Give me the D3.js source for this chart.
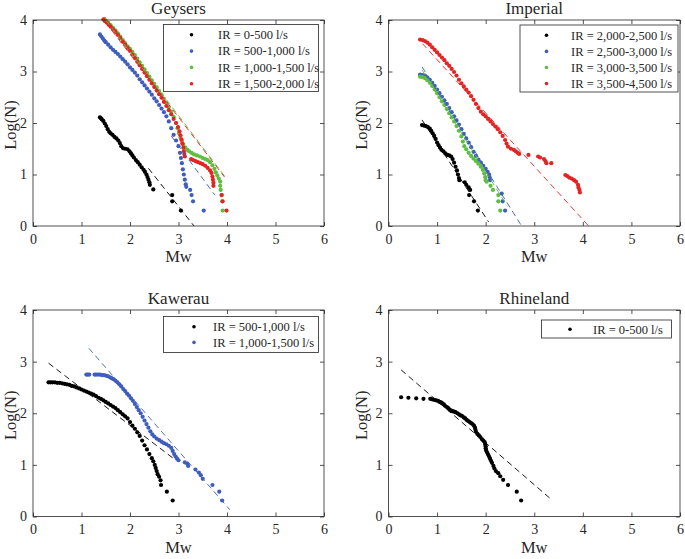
<!DOCTYPE html>
<html><head><meta charset="utf-8">
<script src="https://cdn.jsdelivr.net/npm/d3@7"></script>
<style>
body{margin:0;background:#fff}
svg{display:block}
text{font-family:"Liberation Serif","Times New Roman",serif;fill:#262626}
</style>
</head><body><svg id="c" width="685" height="559"></svg>
<script>
// ---------------- DATA ----------------
const xTicks = [0, 1, 2, 3, 4, 5, 6];
const yTicks = [0, 1, 2, 3, 4];
const panelTitles = ["Geysers", "Imperial", "Kawerau", "Rhineland"];
const xLabel = "Mw";
const yLabel = "Log(N)";

const geysersLabels = ["IR = 0-500 l/s", "IR = 500-1,000 l/s", "IR = 1,000-1,500 l/s", "IR = 1,500-2,000 l/s"];
const imperialLabels = ["IR = 2,000-2,500 l/s", "IR = 2,500-3,000 l/s", "IR = 3,000-3,500 l/s", "IR = 3,500-4,500 l/s"];
const kawerauLabels = ["IR = 500-1,000 l/s", "IR = 1,000-1,500 l/s"];
const rhinelandLabels = ["IR = 0-500 l/s"];

// Geysers
const geysers_0_500 = [[1.38,2.11],[1.40,2.09],[1.42,2.07],[1.45,2.04],[1.48,1.99],[1.51,1.94],[1.54,1.88],[1.57,1.83],[1.60,1.80],[1.64,1.77],[1.68,1.73],[1.72,1.70],[1.76,1.66],[1.79,1.61],[1.82,1.55],[1.86,1.51],[1.90,1.50],[1.95,1.49],[1.99,1.45],[2.02,1.41],[2.05,1.37],[2.08,1.33],[2.12,1.28],[2.16,1.24],[2.20,1.19],[2.24,1.14],[2.28,1.09],[2.31,1.05],[2.34,1.00],[2.36,0.95],[2.38,0.90],[2.40,0.85],[2.41,0.80],[2.48,0.71],[2.87,0.60],[2.87,0.48],[3.05,0.30]];
const geysers_500_1000 = [[1.38,3.72],[1.41,3.68],[1.44,3.64],[1.47,3.60],[1.50,3.57],[1.55,3.52],[1.60,3.47],[1.65,3.42],[1.70,3.38],[1.75,3.34],[1.80,3.29],[1.85,3.24],[1.90,3.19],[1.95,3.14],[2.00,3.08],[2.05,3.03],[2.10,2.98],[2.15,2.92],[2.20,2.85],[2.25,2.79],[2.30,2.73],[2.35,2.67],[2.40,2.61],[2.45,2.55],[2.50,2.48],[2.55,2.42],[2.60,2.35],[2.65,2.28],[2.70,2.21],[2.75,2.13],[2.80,2.03],[2.85,1.90],[2.90,1.77],[2.95,1.66],[3.00,1.55],[3.03,1.42],[3.05,1.32],[3.07,1.22],[3.09,1.10],[3.11,1.00],[3.13,0.90],[3.15,0.81],[3.16,0.76],[3.24,0.70],[3.27,0.60],[3.30,0.48],[3.52,0.30]];
const geysers_1000_1500 = [[1.47,4.02],[1.50,3.99],[1.55,3.95],[1.60,3.90],[1.65,3.85],[1.70,3.80],[1.75,3.74],[1.80,3.68],[1.85,3.61],[1.90,3.55],[1.95,3.49],[2.00,3.44],[2.05,3.38],[2.10,3.32],[2.15,3.25],[2.20,3.18],[2.25,3.11],[2.30,3.04],[2.35,2.97],[2.40,2.90],[2.45,2.83],[2.50,2.76],[2.55,2.69],[2.60,2.62],[2.65,2.55],[2.70,2.47],[2.75,2.39],[2.80,2.31],[2.85,2.22],[2.90,2.12],[2.95,2.00],[2.98,1.90],[3.01,1.80],[3.04,1.72],[3.07,1.65],[3.10,1.58],[3.14,1.52],[3.18,1.48],[3.22,1.45],[3.27,1.42],[3.32,1.39],[3.38,1.37],[3.44,1.35],[3.50,1.32],[3.55,1.30],[3.60,1.28],[3.65,1.24],[3.70,1.18],[3.74,1.11],[3.77,1.04],[3.80,0.98],[3.83,0.92],[3.86,0.86],[3.86,0.78],[3.87,0.70],[3.89,0.60],[3.90,0.48],[3.91,0.30]];
const geysers_1500_2000 = [[1.45,4.01],[1.48,3.98],[1.52,3.95],[1.56,3.91],[1.60,3.87],[1.65,3.82],[1.70,3.77],[1.75,3.71],[1.80,3.65],[1.85,3.58],[1.90,3.52],[1.95,3.46],[2.00,3.40],[2.05,3.33],[2.10,3.26],[2.15,3.19],[2.20,3.12],[2.25,3.05],[2.30,2.98],[2.35,2.91],[2.40,2.84],[2.45,2.77],[2.50,2.70],[2.55,2.63],[2.60,2.56],[2.65,2.49],[2.70,2.41],[2.75,2.33],[2.80,2.25],[2.85,2.17],[2.90,2.08],[2.95,2.00],[2.99,1.92],[3.02,1.84],[3.04,1.76],[3.06,1.68],[3.08,1.60],[3.10,1.52],[3.11,1.45],[3.12,1.40],[3.13,1.35],[3.26,1.30],[3.30,1.28],[3.35,1.26],[3.40,1.24],[3.45,1.22],[3.50,1.20],[3.55,1.17],[3.60,1.13],[3.65,1.08],[3.68,1.03],[3.70,0.96],[3.71,0.90],[3.72,0.84],[3.72,0.78],[3.89,0.60],[3.91,0.48],[3.99,0.30]];
const geysersFits = [[2.38,1.12,3.32,0.0],[2.85,1.75,3.75,0.60],[1.50,4.00,3.95,0.97],[1.50,3.95,3.95,0.95]];

// Imperial
const imperial_2000_2500 = [[0.69,1.96],[0.73,1.95],[0.77,1.94],[0.81,1.92],[0.85,1.89],[0.88,1.85],[0.91,1.80],[0.94,1.75],[0.97,1.69],[1.00,1.62],[1.03,1.57],[1.06,1.52],[1.09,1.48],[1.13,1.45],[1.17,1.41],[1.21,1.38],[1.25,1.37],[1.29,1.35],[1.32,1.30],[1.35,1.23],[1.38,1.15],[1.41,1.08],[1.43,1.00],[1.45,0.93],[1.46,0.89],[1.57,0.85],[1.60,0.80],[1.65,0.75],[1.68,0.70],[1.66,0.60],[1.76,0.48],[1.84,0.30]];
const imperial_2500_3000 = [[0.65,2.94],[0.70,2.93],[0.75,2.92],[0.80,2.88],[0.85,2.84],[0.90,2.78],[0.95,2.72],[1.00,2.65],[1.05,2.58],[1.10,2.51],[1.15,2.44],[1.20,2.37],[1.25,2.29],[1.30,2.21],[1.35,2.13],[1.40,2.05],[1.45,1.97],[1.50,1.88],[1.55,1.79],[1.60,1.70],[1.65,1.62],[1.70,1.53],[1.75,1.44],[1.80,1.36],[1.85,1.29],[1.90,1.23],[1.95,1.17],[2.00,1.11],[2.04,1.05],[2.07,1.00],[2.08,0.95],[2.09,0.89],[2.33,0.63],[2.35,0.48],[2.40,0.30]];
const imperial_3000_3500 = [[0.65,2.90],[0.70,2.89],[0.75,2.87],[0.80,2.83],[0.85,2.78],[0.90,2.72],[0.95,2.65],[1.00,2.58],[1.05,2.50],[1.10,2.42],[1.15,2.35],[1.20,2.27],[1.25,2.19],[1.30,2.11],[1.35,2.03],[1.40,1.94],[1.45,1.85],[1.50,1.74],[1.53,1.64],[1.56,1.55],[1.60,1.49],[1.65,1.42],[1.70,1.36],[1.75,1.31],[1.80,1.26],[1.85,1.21],[1.90,1.15],[1.94,1.09],[1.97,1.02],[1.99,0.95],[2.00,0.89],[2.02,0.86],[2.10,0.78],[2.15,0.70],[2.26,0.60],[2.26,0.48],[2.30,0.30]];
const imperial_3500_4500 = [[0.65,3.62],[0.70,3.61],[0.75,3.59],[0.80,3.56],[0.85,3.52],[0.90,3.47],[0.95,3.42],[1.00,3.37],[1.05,3.32],[1.10,3.27],[1.15,3.22],[1.20,3.16],[1.25,3.11],[1.30,3.05],[1.35,2.99],[1.40,2.92],[1.45,2.84],[1.50,2.77],[1.55,2.71],[1.60,2.65],[1.65,2.59],[1.70,2.52],[1.75,2.45],[1.80,2.37],[1.85,2.29],[1.90,2.22],[1.95,2.17],[2.00,2.13],[2.05,2.08],[2.10,2.03],[2.15,1.98],[2.20,1.93],[2.25,1.88],[2.30,1.82],[2.35,1.75],[2.40,1.67],[2.43,1.60],[2.46,1.54],[2.52,1.50],[2.58,1.48],[2.62,1.45],[2.66,1.42],[2.69,1.40],[2.88,1.38],[3.08,1.35],[3.12,1.33],[3.20,1.30],[3.23,1.26],[3.25,1.22],[3.35,1.22],[3.64,0.99],[3.68,0.97],[3.72,0.94],[3.77,0.92],[3.82,0.89],[3.86,0.86],[3.90,0.80],[3.91,0.75],[3.93,0.70],[3.94,0.65]];
const imperialFits = [[0.69,2.06,2.06,0.08],[0.69,3.09,2.74,0.0],[0.69,3.03,2.45,0.38],[0.70,3.54,4.12,0.0]];

// Kawerau
const kawerau_500_1000 = [[0.32,2.60],[0.36,2.60],[0.40,2.60],[0.45,2.60],[0.50,2.59],[0.55,2.59],[0.60,2.58],[0.65,2.57],[0.70,2.56],[0.75,2.55],[0.80,2.53],[0.85,2.52],[0.90,2.50],[0.95,2.48],[1.00,2.46],[1.05,2.44],[1.10,2.42],[1.15,2.40],[1.20,2.38],[1.25,2.36],[1.30,2.33],[1.35,2.30],[1.40,2.28],[1.45,2.25],[1.50,2.22],[1.55,2.19],[1.60,2.16],[1.65,2.13],[1.70,2.10],[1.75,2.06],[1.80,2.02],[1.85,1.98],[1.90,1.94],[1.95,1.90],[2.00,1.83],[2.05,1.76],[2.10,1.70],[2.15,1.63],[2.20,1.56],[2.25,1.47],[2.30,1.38],[2.35,1.30],[2.40,1.21],[2.45,1.13],[2.48,1.07],[2.51,1.00],[2.53,0.94],[2.55,0.88],[2.57,0.82],[2.60,0.77],[2.63,0.70],[2.64,0.61],[2.76,0.48],[2.88,0.31]];
const kawerau_1000_1500 = [[1.10,2.75],[1.13,2.75],[1.16,2.75],[1.27,2.75],[1.30,2.75],[1.34,2.75],[1.38,2.75],[1.42,2.74],[1.46,2.74],[1.50,2.73],[1.54,2.72],[1.58,2.70],[1.62,2.68],[1.66,2.66],[1.70,2.63],[1.74,2.60],[1.78,2.56],[1.82,2.52],[1.86,2.47],[1.90,2.43],[1.94,2.38],[1.98,2.34],[2.02,2.29],[2.06,2.24],[2.10,2.18],[2.14,2.12],[2.18,2.06],[2.22,2.00],[2.26,1.93],[2.30,1.86],[2.34,1.79],[2.38,1.72],[2.42,1.65],[2.46,1.59],[2.50,1.55],[2.55,1.51],[2.60,1.48],[2.65,1.45],[2.70,1.42],[2.75,1.40],[2.80,1.37],[2.85,1.33],[2.88,1.27],[2.91,1.21],[2.94,1.16],[2.97,1.12],[3.00,1.09],[3.13,1.05],[3.18,1.02],[3.20,0.98],[3.35,0.91],[3.42,0.85],[3.46,0.80],[3.50,0.73],[3.70,0.61],[3.84,0.48],[3.90,0.31]];
const kawerauFits = [[0.32,2.97,2.93,1.10],[1.15,3.26,4.06,0.13]];

// Rhineland
const rhineland_0_500 = [[0.26,2.31],[0.41,2.30],[0.57,2.29],[0.72,2.28],[0.86,2.28],[0.90,2.27],[0.94,2.26],[0.98,2.25],[1.02,2.24],[1.05,2.22],[1.08,2.21],[1.11,2.19],[1.14,2.17],[1.17,2.14],[1.20,2.12],[1.23,2.10],[1.26,2.07],[1.29,2.05],[1.32,2.04],[1.35,2.03],[1.38,2.02],[1.42,2.00],[1.45,1.98],[1.48,1.96],[1.51,1.95],[1.55,1.92],[1.58,1.90],[1.61,1.87],[1.64,1.85],[1.67,1.83],[1.70,1.81],[1.73,1.79],[1.76,1.76],[1.78,1.72],[1.79,1.68],[1.80,1.64],[1.83,1.60],[1.86,1.57],[1.89,1.54],[1.92,1.50],[1.95,1.47],[1.98,1.44],[1.99,1.40],[2.00,1.36],[2.00,1.32],[2.01,1.28],[2.03,1.24],[2.05,1.20],[2.07,1.16],[2.09,1.12],[2.11,1.08],[2.13,1.04],[2.16,0.98],[2.18,0.93],[2.21,0.88],[2.26,0.84],[2.30,0.78],[2.36,0.71],[2.46,0.61],[2.64,0.48],[2.73,0.31]];
const rhinelandFits = [[0.26,2.84,3.34,0.34]];

// ---------------- STYLE / LAYOUT ----------------
const palette = ["#000000", "#3f5dbd", "#5cbf3f", "#e42323"];
const panels = [
  {title: panelTitles[0], series: [geysers_0_500, geysers_500_1000, geysers_1000_1500, geysers_1500_2000], fits: geysersFits, labels: geysersLabels, colors: [0,1,2,3],
   box: {l: 33, r: 324, t: 20, b: 226}, yLabX: 16, leg: {x: 163.5, y: 24.5, w: 155, h: 67, mx: 191.5, tx: 218, r0: 10.3, dr: 16.3}},
  {title: panelTitles[1], series: [imperial_2000_2500, imperial_2500_3000, imperial_3000_3500, imperial_3500_4500], fits: imperialFits, labels: imperialLabels, colors: [0,1,2,3],
   box: {l: 388.5, r: 680, t: 20, b: 226}, yLabX: 367, leg: {x: 520, y: 25, w: 158, h: 67, mx: 546.5, tx: 571, r0: 10.3, dr: 16.1}},
  {title: panelTitles[2], series: [kawerau_500_1000, kawerau_1000_1500], fits: kawerauFits, labels: kawerauLabels, colors: [0,1],
   box: {l: 33, r: 324, t: 310, b: 516.5}, yLabX: 16, leg: {x: 163.5, y: 316.5, w: 155, h: 36, mx: 194, tx: 213, r0: 10.3, dr: 15.6}},
  {title: panelTitles[3], series: [rhineland_0_500], fits: rhinelandFits, labels: rhinelandLabels, colors: [0],
   box: {l: 388.5, r: 680, t: 310, b: 516.5}, yLabX: 367, leg: {x: 541.5, y: 320, w: 130, h: 18, mx: 570, tx: 593, r0: 9.2, dr: 16}}
];

const svg = d3.select("#c");
const axisColor = "#262626";

panels.forEach(p => {
  const g = svg.append("g");
  const x = d3.scaleLinear().domain([0, 6]).range([p.box.l, p.box.r]);
  const y = d3.scaleLinear().domain([0, 4]).range([p.box.b, p.box.t]);

  const tk = 4;
  g.append("g").attr("transform", `translate(0,${p.box.b})`)
    .call(d3.axisBottom(x).tickValues(xTicks).tickSize(-tk).tickPadding(8).tickFormat(d3.format("d")))
    .call(s => { s.select(".domain").remove(); s.selectAll("line").attr("stroke", axisColor).attr("stroke-width", 0.8);
                 s.selectAll("text").attr("font-size", 14).attr("font-family", "Liberation Serif").attr("fill", axisColor); });
  g.append("g").attr("transform", `translate(0,${p.box.t})`)
    .call(d3.axisTop(x).tickValues(xTicks).tickSize(-tk).tickFormat(""))
    .call(s => { s.select(".domain").remove(); s.selectAll("line").attr("stroke", axisColor).attr("stroke-width", 0.8); });
  g.append("g").attr("transform", `translate(${p.box.l},0)`)
    .call(d3.axisLeft(y).tickValues(yTicks).tickSize(-tk).tickPadding(6).tickFormat(d3.format("d")))
    .call(s => { s.select(".domain").remove(); s.selectAll("line").attr("stroke", axisColor).attr("stroke-width", 0.8);
                 s.selectAll("text").attr("font-size", 14).attr("font-family", "Liberation Serif").attr("fill", axisColor); });
  g.append("g").attr("transform", `translate(${p.box.r},0)`)
    .call(d3.axisRight(y).tickValues(yTicks).tickSize(-tk).tickFormat(""))
    .call(s => { s.select(".domain").remove(); s.selectAll("line").attr("stroke", axisColor).attr("stroke-width", 0.8); });

  p.series.forEach((pts, i) => {
    g.append("g").selectAll("circle").data(pts).join("circle")
      .attr("cx", d => x(d[0])).attr("cy", d => y(d[1])).attr("r", 2.1)
      .attr("fill", palette[p.colors[i]]);
  });
  p.fits.forEach((f, i) => {
    g.append("line")
      .attr("x1", x(f[0])).attr("y1", y(f[1])).attr("x2", x(f[2])).attr("y2", y(f[3]))
      .attr("stroke", palette[p.colors[i]]).attr("stroke-width", 0.9).attr("stroke-dasharray", "6,4");
  });

  g.append("rect").attr("x", p.box.l).attr("y", p.box.t)
    .attr("width", p.box.r - p.box.l).attr("height", p.box.b - p.box.t)
    .attr("fill", "none").attr("stroke", axisColor).attr("stroke-width", 0.8);

  g.append("text").attr("x", (p.box.l + p.box.r) / 2).attr("y", p.box.t - 6.5)
    .attr("text-anchor", "middle").attr("font-size", 17).text(p.title);
  g.append("text").attr("x", (p.box.l + p.box.r) / 2).attr("y", p.box.b + 36)
    .attr("text-anchor", "middle").attr("font-size", 16.5).text(xLabel);
  g.append("text").attr("transform", `translate(${p.yLabX},${(p.box.t + p.box.b) / 2 + 2}) rotate(-90)`)
    .attr("text-anchor", "middle").attr("font-size", 16.5).text(yLabel);

  const L = p.leg;
  g.append("rect").attr("x", L.x).attr("y", L.y).attr("width", L.w).attr("height", L.h)
    .attr("fill", "#fff").attr("stroke", axisColor).attr("stroke-width", 0.8);
  p.labels.forEach((lab, i) => {
    const cy = L.y + L.r0 + i * L.dr;
    g.append("circle").attr("cx", L.mx).attr("cy", cy).attr("r", 1.8).attr("fill", palette[p.colors[i]]);
    g.append("text").attr("x", L.tx).attr("y", cy).attr("dy", "0.35em").attr("font-size", 12.5).text(lab);
  });
});
</script>
</body></html>
